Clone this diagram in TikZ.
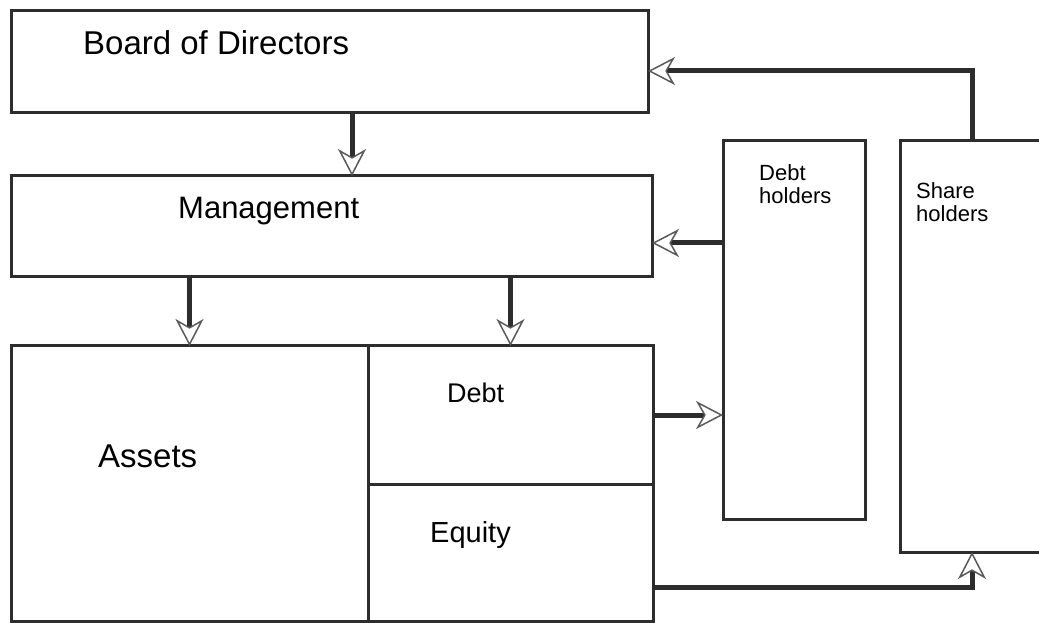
\documentclass[tikz,border=0pt]{standalone}
\usepackage{fontspec}
\setmainfont{Liberation Sans}
\usepackage{tikz}
\usetikzlibrary{positioning, arrows.meta, calc}

\definecolor{linegray}{HTML}{2D2D2D}
\definecolor{tipgray}{HTML}{5A5A5A}

\begin{document}
\begin{tikzpicture}[x=1pt, y=1pt]
\tikzset{box/.style={rectangle, draw=linegray, line width=3pt, inner sep=0pt, outer sep=0pt, anchor=north west}}
\tikzset{lbl/.style={inner sep=0pt, anchor=base west, text=black}}
\tikzset{flow/.style={draw=linegray, line width=5pt, -{Stealth[length=27pt, width=28pt, inset=8pt, line width=1.5pt, color=tipgray, fill=white]}}}

\useasboundingbox (0,0) rectangle (1039,622);

% boxes
\node (board) [box, minimum width=637pt, minimum height=102pt] at (11,611) {};
\node (mgmt) [box, minimum width=641pt, minimum height=101pt, below=63pt of board.south west, anchor=north west] {};
\node (assets) [box, minimum width=357pt, minimum height=275pt, below=69pt of mgmt.south west, anchor=north west] {};
\node (debt) [box, minimum width=285pt, minimum height=138pt, right=0pt of assets.north east, anchor=north west] {};
\node (equity) [box, minimum width=285pt, minimum height=137pt, below=0pt of debt.south west, anchor=north west] {};
\node (dholders) [box, minimum width=142pt, minimum height=378pt, above right=205pt and 70pt of debt.north east, anchor=north west] {};
\node (sholders) [box, minimum width=144pt, minimum height=411pt, right=35pt of dholders.north east, anchor=north west] {};

% labels
\node (boardtxt) [lbl, font=\fontsize{33}{38}\selectfont] at ($(board.north west)+(72,-44)$) {Board of Directors};
\node (mgmttxt) [lbl, font=\fontsize{31}{36}\selectfont] at ($(mgmt.north west)+(167,-43)$) {Management};
\node (assetstxt) [lbl, font=\fontsize{33}{38}\selectfont] at ($(assets.north west)+(87,-121)$) {Assets};
\node (debttxt) [lbl, font=\fontsize{27}{32}\selectfont] at ($(debt.north west)+(79,-57)$) {Debt};
\node (equitytxt) [lbl, font=\fontsize{29}{34}\selectfont] at ($(equity.north west)+(62,-58)$) {Equity};
\node (dholderstxt) [lbl, anchor=north west, align=left, font=\fontsize{22}{23}\selectfont] at ($(dholders.north west)+(36,-23)$) {Debt\\holders};
\node (sholderstxt) [lbl, anchor=north west, align=left, font=\fontsize{22}{23}\selectfont] at ($(sholders.north west)+(16,-41)$) {Share\\holders};

% connectors
\draw [flow] ([xshift=22.5pt]board.south) -- ([xshift=22.5pt]board.south |- mgmt.north);
\draw [flow] (mgmt.south -| assets.north) -- (assets.north);
\draw [flow] (mgmt.south -| debt.north) -- (debt.north);
\draw [flow] ([yshift=-16.5pt]mgmt.east -| dholders.west) -- ([yshift=-16.5pt]mgmt.east);
\draw [flow] (sholders.north) |- ([yshift=-9pt]board.east);
\draw [flow] (debt.east) -- (debt.east -| dholders.west);
\draw [flow] ([yshift=-34.5pt]equity.east) -| (sholders.south);

\end{tikzpicture}
\end{document}
